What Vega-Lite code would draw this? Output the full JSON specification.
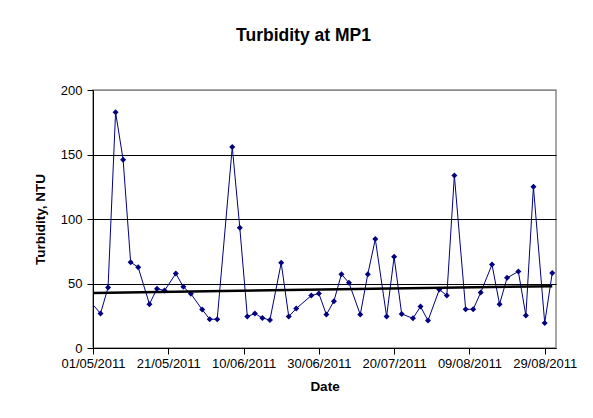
{
  "$schema": "https://vega.github.io/schema/vega-lite/v6.json",
  "autosize": "none",
  "width": 463,
  "height": 258,
  "padding": {"left": 93, "top": 90, "right": 37, "bottom": 70},
  "background": "white",
  "config": {
    "font": "Liberation Sans",
    "view": {"stroke": "#8c8c8c", "strokeWidth": 1.5},
    "axis": {"labelFont": "Liberation Sans", "titleFont": "Liberation Sans", "labelColor": "black", "titleColor": "black", "domainColor": "black", "tickColor": "black"}
  },
  "title": {
    "text": "Turbidity at MP1",
    "font": "Liberation Sans",
    "fontSize": 17.5,
    "fontWeight": "bold",
    "color": "black",
    "anchor": "middle",
    "frame": "group",
    "offset": 40,
    "dx": -21
  },
  "datasets": {
    "readings": [
      {"date": "2011-04-30", "turbidity": 37},
      {"date": "2011-05-03", "turbidity": 26.7},
      {"date": "2011-05-05", "turbidity": 46.9},
      {"date": "2011-05-07", "turbidity": 182.7},
      {"date": "2011-05-09", "turbidity": 146},
      {"date": "2011-05-11", "turbidity": 66.5},
      {"date": "2011-05-13", "turbidity": 62.6},
      {"date": "2011-05-16", "turbidity": 34},
      {"date": "2011-05-18", "turbidity": 46},
      {"date": "2011-05-20", "turbidity": 44.5},
      {"date": "2011-05-23", "turbidity": 57.7},
      {"date": "2011-05-25", "turbidity": 47.4},
      {"date": "2011-05-27", "turbidity": 42},
      {"date": "2011-05-30", "turbidity": 29.8},
      {"date": "2011-06-01", "turbidity": 22.3},
      {"date": "2011-06-03", "turbidity": 22.3},
      {"date": "2011-06-07", "turbidity": 155.8},
      {"date": "2011-06-09", "turbidity": 93.2},
      {"date": "2011-06-11", "turbidity": 24.4},
      {"date": "2011-06-13", "turbidity": 26.7},
      {"date": "2011-06-15", "turbidity": 23.3},
      {"date": "2011-06-17", "turbidity": 21.7},
      {"date": "2011-06-20", "turbidity": 66},
      {"date": "2011-06-22", "turbidity": 24.4},
      {"date": "2011-06-24", "turbidity": 30.6},
      {"date": "2011-06-28", "turbidity": 40.7},
      {"date": "2011-06-30", "turbidity": 42.2},
      {"date": "2011-07-02", "turbidity": 25.9},
      {"date": "2011-07-04", "turbidity": 36.3},
      {"date": "2011-07-06", "turbidity": 57.2},
      {"date": "2011-07-08", "turbidity": 50.5},
      {"date": "2011-07-11", "turbidity": 25.9},
      {"date": "2011-07-13", "turbidity": 57.2},
      {"date": "2011-07-15", "turbidity": 84.4},
      {"date": "2011-07-18", "turbidity": 24.4},
      {"date": "2011-07-20", "turbidity": 70.7},
      {"date": "2011-07-22", "turbidity": 26.4},
      {"date": "2011-07-25", "turbidity": 23},
      {"date": "2011-07-27", "turbidity": 32.1},
      {"date": "2011-07-29", "turbidity": 21.3},
      {"date": "2011-08-01", "turbidity": 45.3},
      {"date": "2011-08-03", "turbidity": 40.7},
      {"date": "2011-08-05", "turbidity": 133.8},
      {"date": "2011-08-08", "turbidity": 30},
      {"date": "2011-08-10", "turbidity": 30},
      {"date": "2011-08-12", "turbidity": 43},
      {"date": "2011-08-15", "turbidity": 64.7},
      {"date": "2011-08-17", "turbidity": 33.9},
      {"date": "2011-08-19", "turbidity": 54.4},
      {"date": "2011-08-22", "turbidity": 59.3},
      {"date": "2011-08-24", "turbidity": 25.1},
      {"date": "2011-08-26", "turbidity": 125},
      {"date": "2011-08-29", "turbidity": 19.4},
      {"date": "2011-08-31", "turbidity": 58.2}
    ],
    "trend": [
      {"date": "2011-05-01", "turbidity": 42.7},
      {"date": "2011-08-31", "turbidity": 47.9}
    ]
  },
  "encoding": {
    "x": {
      "field": "date",
      "type": "temporal",
      "scale": {
        "type": "utc",
        "domain": [
          {"year": 2011, "month": 5, "date": 1, "utc": true},
          {"year": 2011, "month": 9, "date": 1, "utc": true}
        ]
      },
      "axis": {
        "title": "Date",
        "titleFontSize": 13.5,
        "titleFontWeight": "bold",
        "titlePadding": 9,
        "labelFontSize": 13,
        "labelPadding": 3,
        "tickSize": 6,
        "grid": false,
        "labelExpr": "utcFormat(datum.value, '%d/%m/%Y')",
        "labelOverlap": false,
        "labelFlush": false,
        "values": [
          {"year": 2011, "month": 5, "date": 1, "utc": true},
          {"year": 2011, "month": 5, "date": 21, "utc": true},
          {"year": 2011, "month": 6, "date": 10, "utc": true},
          {"year": 2011, "month": 6, "date": 30, "utc": true},
          {"year": 2011, "month": 7, "date": 20, "utc": true},
          {"year": 2011, "month": 8, "date": 9, "utc": true},
          {"year": 2011, "month": 8, "date": 29, "utc": true}
        ]
      }
    },
    "y": {
      "field": "turbidity",
      "type": "quantitative",
      "scale": {"domain": [0, 200], "nice": false},
      "axis": {
        "title": "Turbidity, NTU",
        "titleFontSize": 13.5,
        "titleFontWeight": "bold",
        "titlePadding": 13,
        "labelFontSize": 13,
        "labelPadding": 5,
        "tickSize": 6,
        "values": [0, 50, 100, 150, 200],
        "grid": true,
        "gridColor": {"condition": {"test": "datum.value == 200", "value": "#8c8c8c"}, "value": "black"},
        "gridOpacity": 1,
        "gridWidth": 1
      }
    }
  },
  "layer": [
    {
      "data": {"name": "readings", "format": {"parse": {"date": "date"}}},
      "mark": {"type": "line", "color": "#000080", "strokeWidth": 1, "clip": true}
    },
    {
      "data": {"name": "readings", "format": {"parse": {"date": "date"}}},
      "mark": {"type": "point", "shape": "diamond", "filled": true, "color": "#000080", "size": 36, "opacity": 1, "clip": true}
    },
    {
      "data": {"name": "trend", "format": {"parse": {"date": "date"}}},
      "mark": {"type": "line", "color": "black", "strokeWidth": 2.5, "clip": true}
    }
  ]
}
